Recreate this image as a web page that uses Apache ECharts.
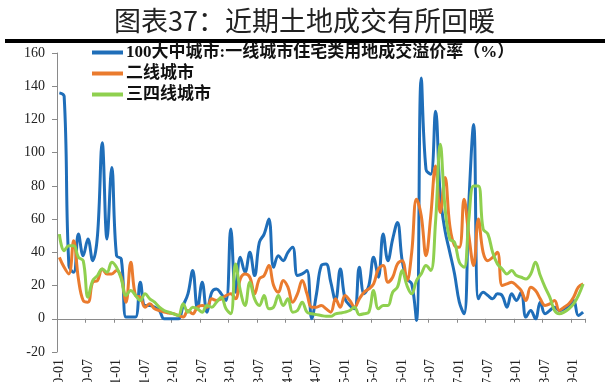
<!DOCTYPE html>
<html><head><meta charset="utf-8">
<script src="https://cdn.jsdelivr.net/npm/echarts@6/dist/echarts.min.js"></script>
<style>html,body{margin:0;padding:0;background:#fff}#c{width:609px;height:382px}</style>
</head><body><div id="c"></div>
<script>
var titleText = '图表37：近期土地成交有所回暖';
var seriesNames = ['100大中城市:一线城市住宅类用地成交溢价率（%）', '二线城市', '三四线城市'];
var startYear = 2010, startMonth = 1, monthCount = 111;
var categories = [];
for (var k = 0; k < monthCount; k++) {
  var m = startMonth - 1 + k;
  var yy = startYear + Math.floor(m / 12), mm = (m % 12) + 1;
  categories.push(yy + '-' + (mm < 10 ? '0' + mm : mm));
}
var tier1 = [136,134,32,28,51,38,48,35,50,106,
  48,91,38,36,1,1,1,22,8,8,
  7,5,0,0,0,0,8,15,29,6,
  22,4,16,18,15,11,54,16,37,28,
  40,26,46,51,60,31,38,35,40,43,
  26,27,29,0,15,32,33,22,11,30,
  12,8,6,31,15,20,37,25,51,35,
  48,58,35,24,21,-1,145,90,87,125,
  74,53,40,27,10,3,70,117,12,16,
  14,12,15,14,7,15,11,16,1,5,
  0,10,3,5,7,5,6,8,11,2,4];
var tier2 = [37,31,27,47,24,11,10,22,23,30,
  27,27,29,25,10,34,14,13,7,9,
  6,5,4,3.5,3,2,1,5,3,7,
  8,7,12,11,12,14,15,12,24,27,
  25,15,24,26,32,20,16,23,19,10,
  15,23,15,7,7,8,6,4,12,7,
  14,11,7,12,16,18,21,30,32,22,
  25,33,35,23,40,72,62,38,62,92,
  64,85,56,44,43,72,50,32,60,40,
  35,37,40,20,21,22,20,17,11,19,
  17,12,8,9,11,5,7,9,13,19,21];
var tier34 = [51,41,44,44,37,35,13,23,26,30,
  28,34,31,24,14,17,14,11,15,12,
  10,7,5,4,3,2,9,4,7,6,
  4,8,7,10,13,6,3,33,17,8,
  22,12,8,14,6,7,14,8,12,4,
  5,10,4,3,2.5,2,1.5,1.5,3,3.5,
  4,5,7,2.5,3,4,17,6,8,8,
  16,19,29,20,15,23,27,32,29,58,
  105,67,48,46,34,31,60,80,80,54,
  51,40,33,30,27,29,26,25,24,27,
  34,26,19,13,5,3,4,6,9,14,21];
var colors = ['#1F6EB9', '#EA7B2E', '#8FD04F'];
var serif = 'Liberation Serif, Noto Sans CJK SC';

var chart = echarts.init(document.getElementById('c'));
function mk(name, data, color) {
  return { name: name, type: 'line', data: data, smooth: 0.4, symbol: 'none',
    lineStyle: { width: 3, color: color }, itemStyle: { color: color } };
}
chart.setOption({
  animation: false,
  title: { text: titleText, left: 'center', top: 2,
    textStyle: { fontSize: 27, fontWeight: 'normal', color: '#222', fontFamily: 'Noto Sans CJK SC' } },
  graphic: [{ type: 'rect', shape: { x: 5, y: 39, width: 600, height: 4 }, style: { fill: '#000' } }],
  legend: { orient: 'vertical', left: 92, top: 44, padding: 0, itemGap: 4,
    icon: 'rect', itemWidth: 31, itemHeight: 4,
    textStyle: { fontSize: 17, fontWeight: 'bold', color: '#111', fontFamily: serif, padding: [0,0,0,-2] },
    data: seriesNames },
  grid: { left: 57, right: 23.5, top: 53, bottom: 30, outerBoundsMode: 'none', containLabel: false },
  xAxis: { type: 'category', data: categories, boundaryGap: true,
    axisLine: { onZero: true, lineStyle: { color: '#8a8a8a', width: 1 } },
    axisTick: { show: true, interval: 5, length: 4, lineStyle: { color: '#8a8a8a' } },
    axisLabel: { interval: 5, rotate: 90, margin: 7, fontSize: 14, color: '#222', fontFamily: serif } },
  yAxis: { type: 'value', min: -20, max: 160, interval: 20,
    splitLine: { show: false },
    axisLine: { show: true, lineStyle: { color: '#8a8a8a', width: 1 } },
    axisTick: { show: true, length: 5, lineStyle: { color: '#8a8a8a' } },
    axisLabel: { margin: 12, fontSize: 14, color: '#222', fontFamily: serif } },
  series: [mk(seriesNames[0], tier1, colors[0]), mk(seriesNames[1], tier2, colors[1]), mk(seriesNames[2], tier34, colors[2])]
});
</script></body></html>
